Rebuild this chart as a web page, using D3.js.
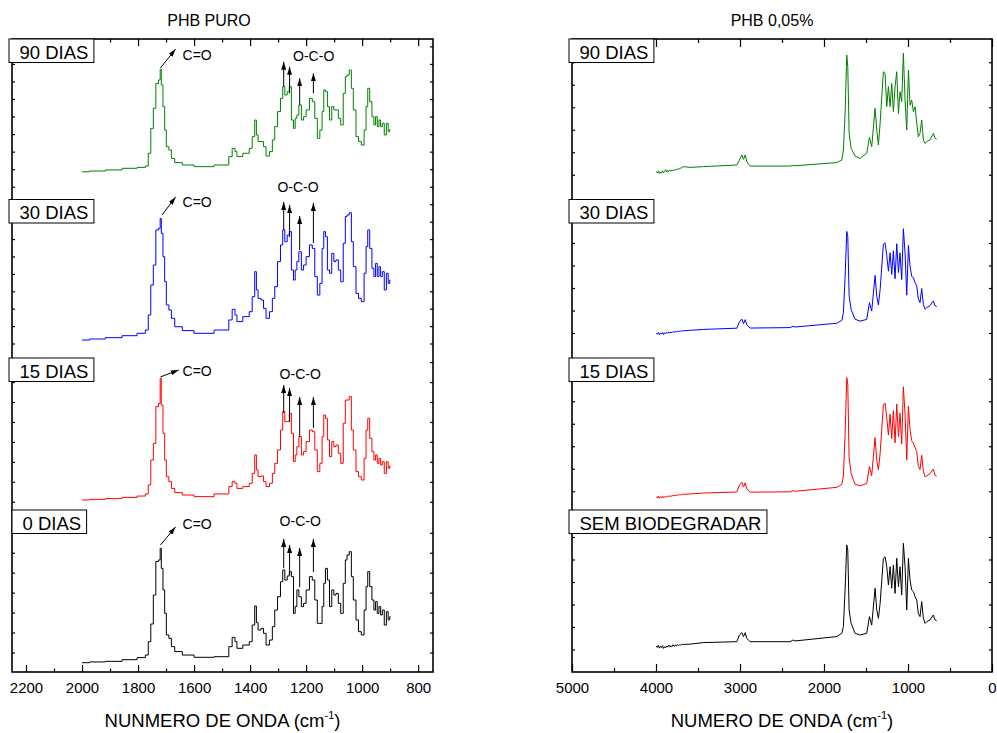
<!DOCTYPE html>
<html><head><meta charset="utf-8">
<script src="https://cdn.jsdelivr.net/npm/d3@7"></script>
<style>body{margin:0;background:#fff}text{font-family:"Liberation Sans",Arial,Helvetica,sans-serif;fill:#000}</style>
</head><body><script>
// ---------------- DATA ----------------
const panelTitles = ["PHB PURO", "PHB 0,05%"];
const axisTitles = ["NUNMERO DE ONDA (cm", "NUMERO DE ONDA (cm"];
const leftLabels = ["90 DIAS", "30 DIAS", "15 DIAS", "0 DIAS"];
const rightLabels = ["90 DIAS", "30 DIAS", "15 DIAS", "SEM BIODEGRADAR"];
const seriesColors = ["#008000", "#0000ff", "#ff0000", "#000000"];
const leftTicksMajor = [2200, 2000, 1800, 1600, 1400, 1200, 1000, 800];
const leftTicksMinor = [2100, 1900, 1700, 1500, 1300, 1100, 900];
const rightTicksMajor = [5000, 4000, 3000, 2000, 1000, 0];
const rightTicksMinor = [4500, 3500, 2500, 1500, 500];

const wnLeft = [2000,1947,1887,1827,1780,1768,1759,1750,1741,1732,1722,1720,1714,1708,1702,1696,1684,1678,1660,1624,1576,1481,1471,1457,1451,1443,1409,1397,1388,1379,1376,1367,1355,1349,1337,1325,1316,1308,1296,1287,1280,1272,1263,1257,1248,1242,1236,1230,1222,1212,1206,1194,1182,1174,1164,1156,1146,1140,1134,1128,1120,1113,1104,1098,1089,1081,1072,1063,1057,1051,1041,1036,1027,1017,1009,997,989,983,977,969,961,955,949,943,937,931,925,917,910,904,899];
const left90 = [17,17.5,18.2,19.3,19.9,20.8,29.3,45.9,59.3,75.9,78.2,85.3,74.8,60.4,44.8,33.7,31.5,25.9,23.1,21.5,20.4,21.5,27.1,32.6,30.4,27.1,29.3,32.6,40.4,51.5,41.5,37.1,37.1,33.7,27.5,30.4,38.2,47.1,57.1,65.9,73.7,68.2,70.4,73.7,51.5,45.9,52.6,54.8,61.5,51.5,53.7,58.2,65.9,63.7,52.6,39.3,44.8,57.1,71.5,70.4,60.4,51.5,60.4,58.2,58.2,52.6,48.2,69.3,80.4,81.5,84.8,72.6,58.2,40.4,37.1,34.8,44.8,60.4,72.6,63.7,53.7,48.2,53.7,47.1,51.5,47.1,49.3,41.5,49.3,43.7,45.2];
const left30 = [10.3,11.0,11.9,13.2,14.8,17,27,47,60.3,83.7,84.8,91.4,81.4,65.9,49.2,33.7,30.3,24.8,19.2,16.6,14.8,17,23.7,30.8,27,22.6,25.9,29.2,39.2,55.9,43.7,38.1,37,31.4,24.8,29.2,38.1,45.9,62.6,73.7,83.7,75.9,80.3,82.6,57,50.3,57,62.6,69.2,57,60.3,65.9,73.7,71.4,52.6,40.3,48.1,71.4,82.6,79.2,57,54.8,68.1,62.6,63.7,57,49.2,74.8,92.6,93.7,95.2,75.9,59.2,41.4,38.1,35.9,54.8,72.6,83.7,71.4,58.1,52.6,61.4,52.6,59.2,52.6,55.9,43.7,54.8,48.1,50.3];
const left15 = [9.2,9.6,10.1,10.9,11.8,13.2,19.2,35.8,46.9,71.4,73.6,90.3,72.5,53.6,35.8,24.7,21.4,16.9,14.1,12.5,11.4,13.2,18.1,21.4,20.3,16.9,18.1,20.3,26.9,39.2,29.2,24.7,25.2,21.4,18.1,20.3,26.9,33.6,42.5,55.8,68.1,61.4,61.4,66.9,53.6,34.7,39.2,44.7,51.4,39.2,41.4,48.1,55.8,54.7,42.5,28.1,33.6,51.4,65.8,63.6,49.2,38.1,48.1,44.7,45.8,40.3,33.6,60.3,75.8,75.8,78.1,55.8,42.5,28.1,24.7,22.5,36.9,55.8,63.6,50.3,41.4,35.8,39.2,33.6,36.9,32.5,34.7,26.9,34.7,30.3,31.9];
const left0 = [6.2,6.7,7.1,8.2,9.6,11.3,20.2,32,51.3,73.6,74.7,82.4,69.1,54.7,39.1,24.7,22.4,16.9,13.6,11.3,9.8,10.2,16.9,23.1,20.2,15.8,18,20.2,31.3,44,32.9,28,29.1,25.8,18,21.3,30.2,41.3,50.2,60.2,68,61.3,64,66.9,63.6,39.1,43.6,54.7,50.2,43.6,45.8,54.7,63.6,61.3,48,32.4,32.4,43.6,59.1,69.1,61.3,43.6,54.7,51.3,52.4,45.8,39.1,59.1,74.7,78,80.2,63.6,48,34.7,26.9,24.7,41.3,56.9,66.9,56.9,48,41.3,46.9,39.1,43.6,38,41.3,31.3,40.2,34.7,36.9];

const wnRight = [3997,3985,3972,3960,3948,3935,3922,3910,3897,3885,3872,3860,3847,3835,3822,3810,3797,3785,3772,3760,3747,3735,3722,3710,3697,3672,3593,3434,3038,3006,2978,2958,2938,2919,2879,2403,2371,2344,1848,1788,1769,1749,1729,1717,1701,1677,1630,1570,1491,1459,1432,1392,1372,1352,1332,1293,1273,1253,1233,1213,1194,1174,1154,1134,1114,1095,1075,1055,1035,1015,995,976,956,936,916,896,877,857,837,817,797,777,738,698,678,658];
const right90 = [17.1,16.2,17.5,15.8,16.9,16.0,17.7,16.3,17.2,18.4,16.8,17.9,17.3,18.0,17.4,18.2,17.7,18.4,18.0,18.6,18.3,19.2,18.8,19.4,19.6,20.4,19.9,20.4,21.5,24.8,28.2,25.3,28.2,23.7,20.8,20.8,21.2,21.0,23.1,24.8,31.5,55.9,94.8,87.1,42.6,32.6,27.5,25.9,29.3,39.9,33.7,59.3,44.8,34.8,49.3,83.7,82.6,60.4,73.7,60.4,75.9,57.1,73.7,83.7,55.9,70.4,63.7,96,64.8,44.8,84.8,61.5,64.8,57.1,60.4,49.3,40.4,42.6,51.5,38.2,35.9,37.1,38.2,42.6,39.3,38.6];
const right30 = [14.8,14.1,15.3,13.9,15.0,14.2,15.4,14.0,15.1,14.6,15.5,14.8,15.7,15.1,15.6,15.2,16.0,15.5,15.9,15.7,16.2,15.9,16.3,16.1,16.4,16.5,16.8,17.4,18.2,22.5,24.3,21.2,23.9,20.4,18.3,18.6,19.5,19.0,21.5,23.4,28.5,52.3,82.7,79.5,40.1,30.6,24.2,22.9,24.1,35.2,29.6,53.4,39.5,33.8,43.9,74.2,75.1,66.8,56.2,68.5,54.1,69.8,51.2,74.5,55.3,68.4,50.6,84.5,68.2,40.2,73.4,59.6,52.8,51.9,48.5,46.3,37.8,35.2,44.6,34.1,30.8,31.9,33.2,36.4,33.1,32.6];
const right15 = [11.2,10.6,11.8,10.3,11.4,10.7,11.9,10.5,11.5,11.0,11.8,11.2,12.1,11.4,12.0,11.6,12.3,11.9,12.4,12.0,12.6,12.3,12.8,12.5,12.9,13.0,13.2,13.8,14.5,19.2,21.0,17.8,20.6,16.5,14.4,14.6,15.4,15.0,17.6,19.5,25.1,52.6,90.8,86.4,37.2,26.8,19.7,18.6,20.2,31.5,25.4,50.8,35.6,29.4,40.1,72.6,73.8,64.1,52.5,66.3,50.1,68.7,47.3,73.2,51.4,67.1,46.5,84.6,66.4,35.8,71.6,56.3,48.7,47.2,43.9,41.4,31.6,29.5,38.9,28.4,24.6,25.3,26.7,29.8,25.6,24.9];
const rightSem = [17.3,16.4,17.8,15.9,17.1,16.2,17.6,15.7,16.9,16.1,17.4,16.6,17.9,16.8,17.5,16.9,18.2,17.1,17.8,17.4,18.3,17.6,18.1,17.9,18.4,18.4,18.6,19.6,20.2,24.7,26.2,23.6,26.2,22.4,20.2,20.2,21.3,20.7,23.6,25.8,30.2,54.7,84.7,81.3,41.3,32.4,25.8,24.7,25.8,36.9,31.3,55.8,41.3,35.8,45.8,75.8,76.9,70.2,58,70.2,55.8,71.3,52.4,75.8,56.9,70.2,51.3,85.8,70.2,41.3,75.8,61.3,54.7,53.6,50.2,48,39.1,36.9,46.9,35.8,32.4,33.6,34.7,38,34.7,34.2];

// annotations (left panel), per layer 90,30,15,0 ; [wavenumber, value]
const coArrowFrom = [[1720,86.2],[1714,93.7],[1720,91.2],[1720,84.7]];
const coArrowTo   = [[1666,98.8],[1666,105.7],[1655,95.8],[1666,96.7]];
const coLabelAt   = [[1641,94.8],[1641,102.3],[1641,95.2],[1641,98.7]];
const ocoLabelAt  = [[1173,94.2],[1229,112.5],[1221,93.2],[1221,100.7]];
const ocoArrowWn  = [1280,1259,1223,1174];
const ocoArrowFrom = [[73.7,69.3,61.5,69.3],[83.7,79,70.3,75],[67.2,61.2,51.2,57.2],[69.3,64.7,56.7,66.7]];
const ocoArrowTo   = [[90.4,87,79.3,82.6],[102.3,100.3,93,101.7],[85.8,83.8,77.8,77.8],[88.7,84.7,82.7,88.7]];

// ---------------- LAYOUT ----------------
const W = 997, H = 733;
const frameTop = 39, frameBottom = 672;
const layerH = (frameBottom - frameTop) / 4;
const pxPerUnit = 1.5;
const FONT = '"Liberation Sans",Arial,Helvetica,sans-serif';

const svg = d3.select("body").append("svg").attr("width", W).attr("height", H);
const defs = svg.append("defs");
defs.append("marker").attr("id", "ah").attr("viewBox", "0 0 10 10")
  .attr("refX", 10).attr("refY", 5).attr("markerWidth", 8).attr("markerHeight", 5)
  .attr("markerUnits", "userSpaceOnUse").attr("orient", "auto").attr("preserveAspectRatio", "none")
  .append("path").attr("d", "M0,0L10,5L0,10z").attr("fill", "#000");

function layerScale(i) {
  const bottom = frameTop + layerH * (i + 1);
  return d3.scaleLinear().domain([0, layerH / pxPerUnit]).range([bottom, bottom - layerH]);
}

const panels = [
  { x0: 12, x1: 433, domain: [2250, 747], major: leftTicksMajor, minor: leftTicksMinor,
    title: panelTitles[0], titleX: 209, axisTitle: axisTitles[0], labels: leftLabels,
    wn: wnLeft, series: [left90, left30, left15, left0], curve: d3.curveStep,
    boxX: [9, 9, 9, 12], majorLen: 7, minorLen: 3.5,
    yTickStart: [7, 8, 8, 13], yTickStep: [11.7, 11.6, 13.3, 13.3] },
  { x0: 572, x1: 992, domain: [5000, 0], major: rightTicksMajor, minor: rightTicksMinor,
    title: panelTitles[1], titleX: 772, axisTitle: axisTitles[1], labels: rightLabels,
    wn: wnRight, series: [right90, right30, right15, rightSem], curve: d3.curveLinear,
    boxX: [569, 569, 569, 569], majorLen: 8, minorLen: 4,
    yTickStart: [15, 15, 15, 15], yTickStep: [15, 15, 15, 15] }
];
const boxTop = [39, 199.5, 358, 510];

panels.forEach((p, pi) => {
  const x = d3.scaleLinear().domain(p.domain).range([p.x0, p.x1]);
  const g = svg.append("g");

  for (let i = 0; i < 4; i++) {
    const y = layerScale(i);
    const tv = d3.range(p.yTickStart[i], layerH / pxPerUnit - 1, p.yTickStep[i]);
    const al = d3.axisLeft(y).tickValues(tv).tickSizeInner(-3).tickSizeOuter(0).tickFormat("");
    const ar = d3.axisRight(y).tickValues(tv).tickSizeInner(-3).tickSizeOuter(0).tickFormat("");
    g.append("g").attr("transform", `translate(${p.x0},0)`).call(al).call(s => s.select(".domain").remove());
    g.append("g").attr("transform", `translate(${p.x1},0)`).call(ar).call(s => s.select(".domain").remove());
  }

  const ab = d3.axisBottom(x).tickValues(p.major).tickSizeInner(-p.majorLen).tickSizeOuter(0).tickPadding(10.5).tickFormat(d3.format("d"));
  const gb = g.append("g").attr("transform", `translate(0,${frameBottom})`).call(ab);
  gb.select(".domain").remove();
  gb.selectAll("text").attr("font-size", 15).attr("font-family", FONT).attr("fill", "#000");
  const abm = d3.axisBottom(x).tickValues(p.minor).tickSizeInner(-p.minorLen).tickSizeOuter(0).tickFormat("");
  g.append("g").attr("transform", `translate(0,${frameBottom})`).call(abm).call(s => s.select(".domain").remove());
  const at = d3.axisTop(x).tickValues(p.major).tickSizeInner(-p.majorLen).tickSizeOuter(0).tickFormat("");
  g.append("g").attr("transform", `translate(0,${frameTop})`).call(at).call(s => s.select(".domain").remove());
  const atm = d3.axisTop(x).tickValues(p.minor).tickSizeInner(-p.minorLen).tickSizeOuter(0).tickFormat("");
  g.append("g").attr("transform", `translate(0,${frameTop})`).call(atm).call(s => s.select(".domain").remove());
  g.selectAll(".tick line").attr("stroke", "#000").attr("stroke-width", 1.2);

  p.series.forEach((vals, i) => {
    const y = layerScale(i);
    const line = d3.line().x(d => x(d[0])).y(d => y(d[1])).curve(p.curve);
    g.append("path").datum(p.wn.map((w, k) => [w, vals[k]]))
      .attr("d", line).attr("fill", "none").attr("stroke", seriesColors[i])
      .attr("stroke-width", 1).attr("stroke-linejoin", "round");
  });

  g.append("rect").attr("x", p.x0).attr("y", frameTop).attr("width", p.x1 - p.x0).attr("height", frameBottom - frameTop)
    .attr("fill", "none").attr("stroke", "#000").attr("stroke-width", 1.6);

  p.labels.forEach((lab, i) => {
    const bx = p.boxX[i], by = boxTop[i];
    const lg = g.append("g");
    const r = lg.append("rect").attr("x", bx).attr("y", by).attr("height", 23.5)
      .attr("fill", "#fff").attr("stroke", "#000").attr("stroke-width", 1);
    const t = lg.append("text").attr("x", bx + 10.5).attr("y", by + 19.5).attr("font-size", 18.5).text(lab);
    r.attr("width", t.node().getComputedTextLength() + 16);
  });

  svg.append("text").attr("x", p.titleX).attr("y", 26).attr("text-anchor", "middle").attr("font-size", 16).text(p.title);

  const xt = svg.append("text").attr("x", (p.x0 + p.x1) / 2).attr("y", 726.5).attr("text-anchor", "middle").attr("font-size", 18.5);
  xt.append("tspan").text(p.axisTitle);
  xt.append("tspan").attr("dy", -8).attr("font-size", 11).text("-1");
  xt.append("tspan").attr("dy", 8).text(")");

  if (pi === 0) {
    for (let i = 0; i < 4; i++) {
      const y = layerScale(i);
      g.append("line").attr("x1", x(coArrowFrom[i][0])).attr("y1", y(coArrowFrom[i][1]))
        .attr("x2", x(coArrowTo[i][0])).attr("y2", y(coArrowTo[i][1]))
        .attr("stroke", "#000").attr("stroke-width", 1).attr("marker-end", "url(#ah)");
      g.append("text").attr("x", x(coLabelAt[i][0])).attr("y", y(coLabelAt[i][1]) + 5)
        .attr("font-size", 14).text("C=O");
      g.append("text").attr("x", x(ocoLabelAt[i][0])).attr("y", y(ocoLabelAt[i][1]) + 5)
        .attr("text-anchor", "middle").attr("font-size", 14).text("O-C-O");
      ocoArrowWn.forEach((w, k) => {
        g.append("line").attr("x1", x(w)).attr("x2", x(w))
          .attr("y1", y(ocoArrowFrom[i][k])).attr("y2", y(ocoArrowTo[i][k]))
          .attr("stroke", "#000").attr("stroke-width", 1).attr("marker-end", "url(#ah)");
      });
    }
  }
});
</script></body></html>
